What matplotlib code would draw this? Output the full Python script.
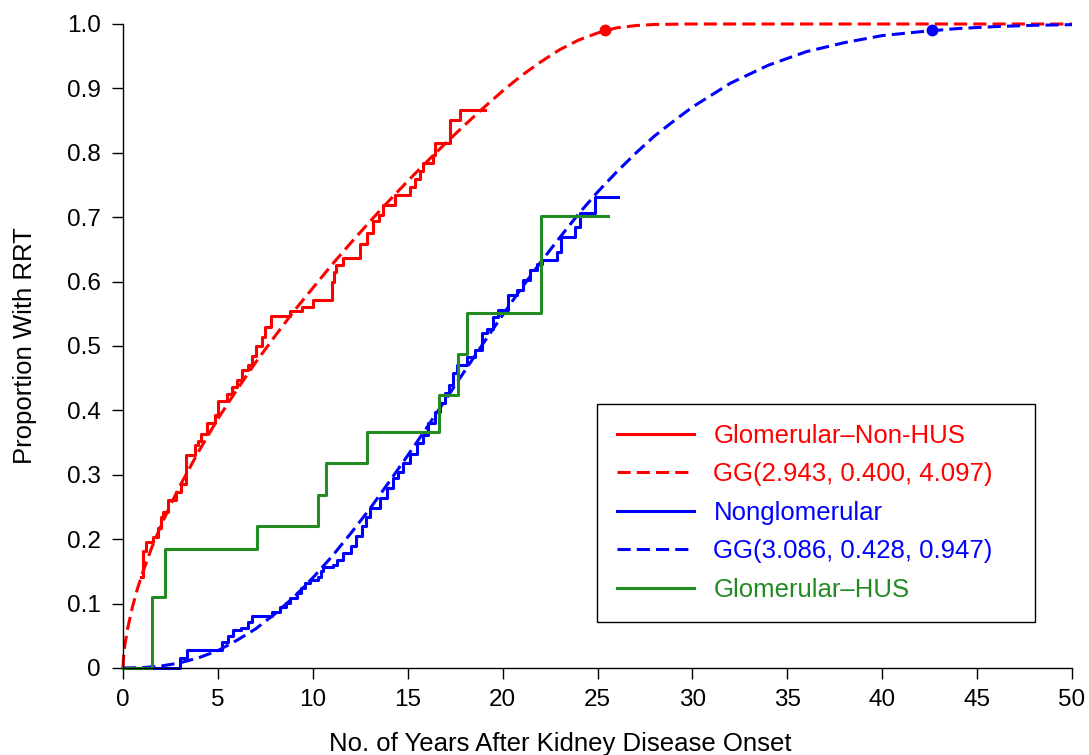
import matplotlib
matplotlib.use("Agg")
import matplotlib.pyplot as plt
from matplotlib.lines import Line2D

plt.rcParams['font.family'] = ['Liberation Sans', 'DejaVu Sans']

# Kaplan-Meier: Glomerular-Non-HUS
red_t = [0.97, 1.05, 1.23, 1.58, 1.84, 2.00, 2.10, 2.37, 2.81, 3.05, 3.30, 3.78,
         3.97, 4.10, 4.41, 4.85, 5.02, 5.46, 5.73, 5.99, 6.25, 6.60, 6.80, 7.00,
         7.31, 7.50, 7.80, 8.80, 9.41, 10.03, 10.99, 11.10, 11.20, 11.60, 12.49,
         12.84, 13.19, 13.50, 13.72, 14.33, 15.12, 15.40, 15.65, 15.80, 16.35,
         16.44, 17.23, 17.76, 19.07]
red_s = [0.142, 0.181, 0.196, 0.204, 0.217, 0.235, 0.243, 0.261, 0.274, 0.285,
         0.331, 0.346, 0.352, 0.364, 0.380, 0.393, 0.414, 0.425, 0.436, 0.447,
         0.463, 0.470, 0.485, 0.500, 0.514, 0.530, 0.546, 0.555, 0.561, 0.571,
         0.600, 0.615, 0.626, 0.636, 0.659, 0.675, 0.694, 0.703, 0.719, 0.735,
         0.747, 0.760, 0.771, 0.784, 0.797, 0.815, 0.851, 0.866, 0.866]

# Kaplan-Meier: Nonglomerular
blue_t = [0.0, 3.00, 3.35, 5.20, 5.55, 5.81, 6.20, 6.60, 6.78, 7.83, 8.27, 8.60,
          8.80, 9.15, 9.40, 9.59, 9.85, 10.29, 10.45, 10.55, 11.08, 11.26, 11.60,
          12.00, 12.30, 12.60, 12.80, 13.00, 13.54, 13.89, 14.24, 14.50, 14.77,
          15.12, 15.47, 15.82, 16.09, 16.44, 16.70, 16.96, 17.20, 17.41, 17.60,
          18.10, 18.55, 18.90, 19.16, 19.50, 19.77, 20.30, 20.74, 21.09, 21.44,
          21.80, 22.06, 22.85, 23.10, 23.81, 24.08, 24.87, 26.10]
blue_s = [0.0, 0.015, 0.028, 0.041, 0.049, 0.059, 0.062, 0.072, 0.080, 0.087,
          0.095, 0.101, 0.108, 0.116, 0.124, 0.132, 0.137, 0.142, 0.150, 0.157,
          0.160, 0.168, 0.178, 0.190, 0.205, 0.220, 0.235, 0.248, 0.264, 0.279,
          0.295, 0.305, 0.318, 0.333, 0.349, 0.362, 0.380, 0.398, 0.412, 0.427,
          0.440, 0.458, 0.470, 0.483, 0.494, 0.520, 0.527, 0.545, 0.556, 0.579,
          0.587, 0.603, 0.618, 0.628, 0.634, 0.646, 0.670, 0.685, 0.706, 0.732,
          0.732]

# Kaplan-Meier: Glomerular-HUS
green_t = [0.0, 1.51, 2.21, 7.08, 10.26, 10.71, 12.84, 16.65, 17.67, 18.10, 22.00, 25.57]
green_s = [0.0, 0.111, 0.185, 0.221, 0.269, 0.318, 0.366, 0.424, 0.488, 0.552, 0.702, 0.702]

# fitted GG curves
gg_red_t = [0, 0.02, 0.05, 0.1, 0.25, 0.5, 0.75, 1, 1.5, 2, 2.5, 3, 4, 5, 6, 7, 8,
            9, 10, 11, 12, 13, 14, 15, 16, 17, 18, 19, 20, 21, 22, 23, 24, 25, 26,
            27, 28, 30, 35, 50]
gg_red_s = [0, 0.013, 0.023, 0.036, 0.062, 0.095, 0.122, 0.145, 0.186, 0.221,
            0.253, 0.283, 0.337, 0.387, 0.432, 0.475, 0.515, 0.554, 0.590, 0.626,
            0.660, 0.693, 0.725, 0.756, 0.786, 0.815, 0.843, 0.870, 0.896, 0.920,
            0.941, 0.960, 0.975, 0.986, 0.994, 0.9975, 0.9993, 1.0, 1.0, 1.0]
gg_blue_t = [0, 1, 2, 3, 4, 5, 6, 7, 8, 9, 10, 11, 12, 13, 14, 15, 16, 17, 18, 19,
             20, 21, 22, 23, 24, 25, 26, 27, 28, 29, 30, 32, 34, 36, 38, 40, 42,
             44, 46, 48, 50]
gg_blue_s = [0, 0.0005, 0.003, 0.008, 0.016, 0.027, 0.043, 0.061, 0.084, 0.110,
             0.140, 0.173, 0.209, 0.247, 0.288, 0.330, 0.373, 0.417, 0.461, 0.505,
             0.548, 0.590, 0.630, 0.668, 0.705, 0.739, 0.770, 0.799, 0.826, 0.849,
             0.871, 0.908, 0.936, 0.957, 0.971, 0.982, 0.988, 0.993, 0.996, 0.998,
             0.999]

# 99th percentile points
q99_t = [25.4, 42.6]
q99_s = [0.99, 0.99]

labels = ['Glomerular\u2013Non-HUS', 'GG(2.943, 0.400, 4.097)', 'Nonglomerular',
          'GG(3.086, 0.428, 0.947)', 'Glomerular\u2013HUS']

RED, BLUE, GREEN = '#ff0000', '#0000ff', '#228b22'
lw = 2.2
dash = (4.3, 2.0)

fig = plt.figure(figsize=(10.89, 7.55), dpi=100)
ax = fig.add_axes([123 / 1089, 87 / 755, 949 / 1089, 644 / 755])

ax.step(red_t, red_s, where='post', color=RED, lw=lw, clip_on=False)
ax.plot(gg_red_t, gg_red_s, color=RED, lw=lw, dashes=dash, clip_on=False)
ax.step(blue_t, blue_s, where='post', color=BLUE, lw=lw, clip_on=False)
ax.plot(gg_blue_t, gg_blue_s, color=BLUE, lw=lw, dashes=dash, clip_on=False)
ax.step(green_t, green_s, where='post', color=GREEN, lw=lw, clip_on=False)
ax.plot(q99_t[0], q99_s[0], 'o', color=RED, ms=7.5, clip_on=False, zorder=4)
ax.plot(q99_t[1], q99_s[1], 'o', color=BLUE, ms=7.5, clip_on=False, zorder=4)

ax.set_xlim(0, 50)
ax.set_ylim(0, 1)
ax.spines['top'].set_visible(False)
ax.spines['right'].set_visible(False)
for s in ('left', 'bottom'):
    ax.spines[s].set_linewidth(1.0)

ax.set_xticks(range(0, 51, 5))
ax.set_yticks([i / 10 for i in range(11)])
ax.set_yticklabels(['0'] + ['0.%d' % i for i in range(1, 10)] + ['1.0'])
ax.tick_params(direction='out', length=8, width=1.0, labelsize=17.5)
ax.tick_params(axis='y', pad=8)
ax.tick_params(axis='x', pad=7)

fig.text(560 / 1089, 1 - 744 / 755, 'No. of Years After Kidney Disease Onset',
         ha='center', va='center', fontsize=18.5)
fig.text(25 / 1089, 1 - 346 / 755, 'Proportion With RRT', rotation=90,
         ha='center', va='center', fontsize=18.5)

handles = [Line2D([], [], color=RED, lw=lw),
           Line2D([], [], color=RED, lw=lw, dashes=dash),
           Line2D([], [], color=BLUE, lw=lw),
           Line2D([], [], color=BLUE, lw=lw, dashes=dash),
           Line2D([], [], color=GREEN, lw=lw)]
leg = ax.legend(handles, labels, loc='upper left',
                bbox_to_anchor=(0.4995, 0.0, 0.4615, 0.4099), mode='expand',
                borderaxespad=0, fontsize=18.5, labelcolor='linecolor',
                handlelength=3.0, handletextpad=0.75, borderpad=0.78,
                labelspacing=0.56, fancybox=False, framealpha=1)
leg.get_frame().set_edgecolor('black')
leg.get_frame().set_linewidth(1.0)

fig.savefig('out.png', dpi=100)
